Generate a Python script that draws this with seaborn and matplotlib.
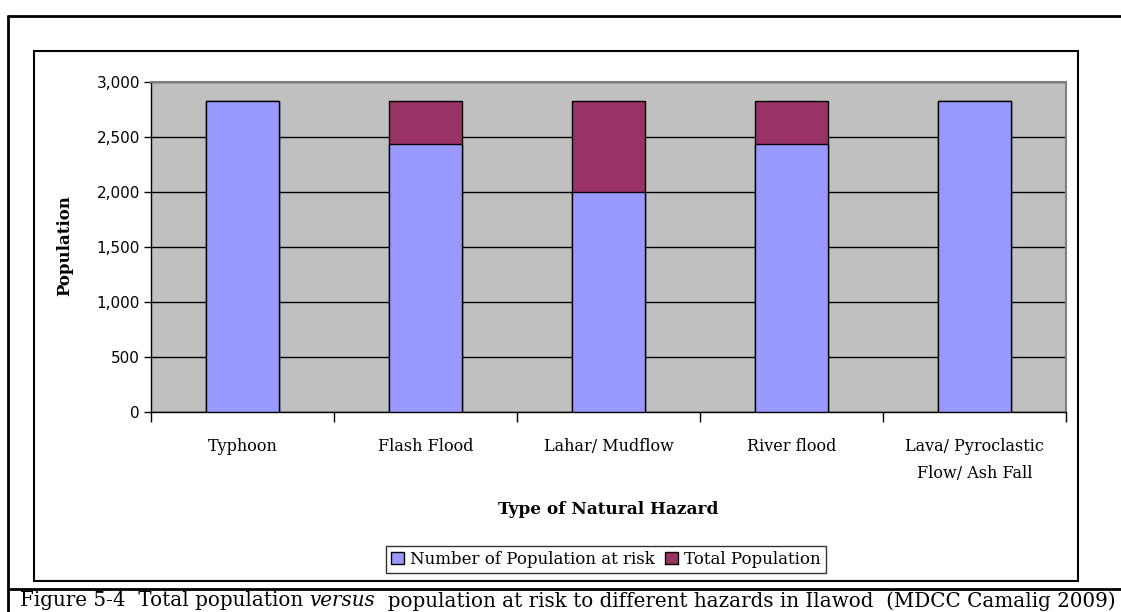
import matplotlib
matplotlib.use("Agg")
import matplotlib.pyplot as plt
import seaborn as sns
import pandas as pd
from matplotlib.patches import Rectangle, Patch
from matplotlib.lines import Line2D

categories = ["Typhoon", "Flash Flood", "Lahar/ Mudflow", "River flood",
              "Lava/ Pyroclastic\nFlow/ Ash Fall"]
at_risk = [2825, 2440, 2000, 2440, 2825]
not_at_risk = [0, 385, 825, 385, 0]
yticks = [0, 500, 1000, 1500, 2000, 2500, 3000]
series_names = ["Number of Population at risk", "Total Population"]

BLUE = "#9999FF"
MAROON = "#993366"
GRAY = "#C0C0C0"

sns.set_theme(style="white")
plt.rcParams["font.family"] = ["DejaVu Serif"]
plt.rcParams["text.color"] = "black"
plt.rcParams["xtick.color"] = "black"
plt.rcParams["ytick.color"] = "black"
plt.rcParams["axes.labelcolor"] = "black"

df = pd.DataFrame({
    "cat": categories,
    "risk": at_risk,
    "total": [a + b for a, b in zip(at_risk, not_at_risk)],
})

W, H = 1121, 612
fig = plt.figure(figsize=(W / 100, H / 100), dpi=100)
ax = fig.add_axes([151 / W, 1 - 411.5 / H, (1066 - 151) / W, (411.5 - 82) / H])
ax.set_facecolor(GRAY)

sns.barplot(data=df, x="cat", y="total", color=MAROON, saturation=1, width=0.4,
            edgecolor="black", linewidth=1.0, ax=ax, zorder=3)
sns.barplot(data=df, x="cat", y="risk", color=BLUE, saturation=1, width=0.4,
            edgecolor="black", linewidth=1.0, ax=ax, zorder=4)

ax.set_xlim(-0.5, len(categories) - 0.5)
ax.set_ylim(0, 3000)
ax.set_yticks(yticks)
ax.set_yticklabels([f"{v:,}" for v in yticks], fontfamily="DejaVu Sans", fontsize=11)
ax.yaxis.grid(True, color="black", linewidth=1.0, zorder=1)
ax.set_axisbelow(True)
ax.tick_params(axis="y", length=5, width=1, color="black", direction="out", left=True, pad=3)

ax.set_xticks(range(len(categories)))
ax.set_xticklabels(categories, fontsize=11.5, linespacing=1.75, va="top")
ax.set_xticks([i - 0.5 for i in range(len(categories) + 1)], minor=True)
ax.tick_params(axis="x", which="major", length=0, pad=19)
ax.tick_params(axis="x", which="minor", length=7, width=1, color="black", direction="out", bottom=True)

for s in ["left", "bottom"]:
    ax.spines[s].set_color("black")
    ax.spines[s].set_linewidth(1.0)
for s in ["top", "right"]:
    ax.spines[s].set_color("#808080")
    ax.spines[s].set_linewidth(1.5)

ax.set_xlabel("")
ax.set_ylabel("")
fig.text(65 / W, 1 - 246 / H, "Population", rotation=90, ha="center", va="center",
         fontsize=12, fontweight="bold")
fig.text(608 / W, 1 - 509 / H, "Type of Natural Hazard", ha="center", va="center",
         fontsize=12.2, fontweight="bold")

handles = [Patch(facecolor=BLUE, edgecolor="black", linewidth=1.0),
           Patch(facecolor=MAROON, edgecolor="black", linewidth=1.0)]
leg = fig.legend(handles, series_names, loc="center", bbox_to_anchor=(606 / W, 1 - 559 / H),
                 ncol=2, frameon=True, fancybox=False, fontsize=12, handlelength=0.75,
                 handleheight=0.75, handletextpad=0.4, columnspacing=0.6,
                 borderpad=0.3, borderaxespad=0)
leg.get_frame().set_edgecolor("black")
leg.get_frame().set_linewidth(1.0)

# chart frame
fig.add_artist(Rectangle((34 / W, 1 - 581 / H), (1078 - 34) / W, (581 - 51) / H,
                         transform=fig.transFigure, fill=False, edgecolor="black", linewidth=1.5))
# document table lines
fig.add_artist(Line2D([7.5 / W, 1], [1 - 15.5 / H] * 2, transform=fig.transFigure, color="black", linewidth=2))
fig.add_artist(Line2D([7.5 / W] * 2, [0, 1 - 15.5 / H], transform=fig.transFigure, color="black", linewidth=2))
fig.add_artist(Line2D([7.5 / W, 1], [1 - 588.5 / H] * 2, transform=fig.transFigure, color="black", linewidth=2))

# caption with italic word, sized to span the reference width
parts = [("Figure 5-4  Total population ", "normal"), ("versus", "italic"),
         ("  population at risk to different hazards in Ilawod  (MDCC Camalig 2009)", "normal")]
fig.canvas.draw()
renderer = fig.canvas.get_renderer()
x0, target = 20.0, 1087.0


def draw_caption(fs):
    texts = []
    x = x0 / W
    for txt, style in parts:
        t = fig.text(x, 1 - 601 / H, txt, fontsize=fs, fontstyle=style, ha="left",
                     va="center", fontfamily="DejaVu Serif")
        bb = t.get_window_extent(renderer=renderer)
        x = bb.x1 / fig.bbox.width
        texts.append(t)
    return texts, x * W - x0


texts, width = draw_caption(13.5)
fs = 13.5 * target / width
for t in texts:
    t.remove()
draw_caption(fs)

fig.savefig("out.png", dpi=100)
